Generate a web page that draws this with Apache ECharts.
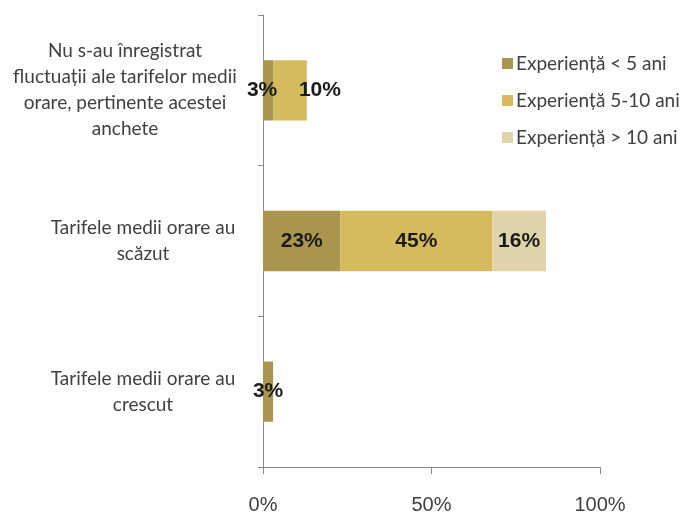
<!DOCTYPE html>
<html>
<head>
<meta charset="utf-8">
<script src="https://cdn.jsdelivr.net/npm/echarts@6/dist/echarts.min.js"></script>
<style>html,body{margin:0;padding:0;background:#fff}#c{width:688px;height:515px}</style>
</head>
<body>
<div id="c"></div>
<script>
var categories = [
  "Nu s-au înregistrat\nfluctuații ale tarifelor medii\norare, pertinente acestei\nanchete",
  "Tarifele medii orare au\nscăzut",
  "Tarifele medii orare au\ncrescut"
];
var seriesNames = ["Experiență < 5 ani", "Experiență 5-10 ani", "Experiență > 10 ani"];
var under5 = [3, 23, 3];
var from5to10 = [10, 45, 0];
var over10 = [0, 16, 0];
var xTicks = [0, 50, 100];

var colors = ["#AA964F", "#D5BA5E", "#E2D4AA"];
var values = [under5, from5to10, over10];
// per-label nudges (Excel shifted overlapping labels)
var labelOffsets = { "0-0": [-6, 0], "1-0": [30, 0] };

var chart = echarts.init(document.getElementById('c'));
var series = values.map(function (arr, si) {
  return {
    name: seriesNames[si],
    type: 'bar',
    stack: 'total',
    barCategoryGap: '60%',
    itemStyle: { color: colors[si] },
    label: {
      show: true,
      position: 'inside',
      formatter: function (p) { return p.value > 0 ? p.value + '%' : ''; },
      color: '#1a1a1a',
      fontWeight: 'bold',
      fontSize: 21,
      fontFamily: "'Liberation Sans Narrow', 'Liberation Sans', Arial, sans-serif"
    },
    data: arr.map(function (v, ci) {
      var o = { value: v };
      var key = si + '-' + ci;
      if (labelOffsets[key]) o.label = { offset: labelOffsets[key] };
      return o;
    })
  };
});

chart.setOption({
  animation: false,
  grid: { left: 263, right: 88, top: 15, bottom: 48, containLabel: false },
  legend: {
    orient: 'vertical',
    left: 497,
    top: 49,
    itemWidth: 11,
    itemHeight: 11,
    itemGap: 18,
    icon: 'rect',
    data: seriesNames,
    textStyle: { fontFamily: 'Lato, sans-serif', fontSize: 19, color: '#404040', padding: [0, 0, 0, -2] }
  },
  xAxis: {
    type: 'value',
    min: xTicks[0],
    max: xTicks[xTicks.length - 1],
    interval: 50,
    axisLine: { show: true, lineStyle: { color: '#8a8a8a', width: 1 } },
    axisTick: { show: true, length: 7, lineStyle: { color: '#8a8a8a' } },
    splitLine: { show: false },
    axisLabel: {
      margin: 28,
      formatter: '{value}%',
      fontFamily: "'Liberation Sans', Arial, sans-serif",
      fontSize: 20,
      color: '#404040'
    }
  },
  yAxis: {
    type: 'category',
    inverse: true,
    data: categories,
    axisLine: { show: true, lineStyle: { color: '#8a8a8a', width: 1 } },
    axisTick: { show: true, length: 5, lineStyle: { color: '#8a8a8a' } },
    axisLabel: {
      align: 'center',
      margin: 138,
      lineHeight: 26,
      fontFamily: 'Lato, sans-serif',
      fontSize: 19,
      color: '#404040',
      formatter: function (v, i) {
        var st = i === 0 ? 'a' : 'b';
        return v.split('\n').map(function (l) { return '{' + st + '|' + l + '}'; }).join('\n');
      },
      rich: {
        a: { fontFamily: 'Lato, sans-serif', fontSize: 19, color: '#404040', lineHeight: 26 },
        b: { fontFamily: 'Lato, sans-serif', fontSize: 19, color: '#404040', lineHeight: 26, padding: [0, 0, 0, 36] }
      }
    }
  },
  series: series
});
</script>
</body>
</html>
